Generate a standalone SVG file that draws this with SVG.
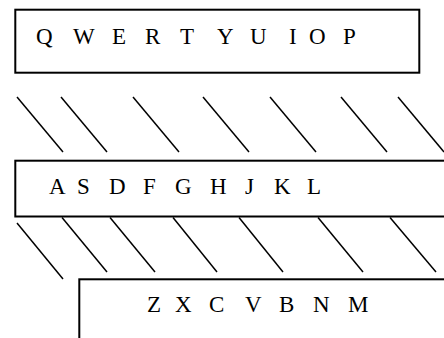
<svg xmlns="http://www.w3.org/2000/svg" width="444" height="338" viewBox="0 0 444 338">
<style>
.box{fill:#fff;stroke:#000;stroke-width:2}
.hatch line{stroke:#000;stroke-width:1.5}
.lbl{font-family:'Liberation Serif','Times New Roman',Times,serif;font-size:23px;fill:#000}
</style>
<rect width="444" height="338" fill="#fff"/>
<g id="node-top">
<rect class="box" x="15.3" y="9.7" width="404" height="63"/>
<text class="lbl" y="43.5" x="36 73 112 145 180 217 250 289 309 343">QWERTYUIOP</text>
</g>
<g id="node-middle">
<rect class="box" x="15.3" y="160.7" width="440" height="55.8"/>
<text class="lbl" y="194" x="49 77 109 143 175 210 245 274 307">ASDFGHJKL</text>
</g>
<g id="node-bottom">
<rect class="box" x="79.3" y="279.3" width="400" height="100"/>
<text class="lbl" y="311.5" x="147 175 209 245 279 313 348">ZXCVBNM</text>
</g>
<g id="connectors" class="hatch">
<line x1="17" y1="97" x2="63" y2="152"/>
<line x1="61" y1="97" x2="107" y2="152"/>
<line x1="133" y1="97" x2="179" y2="152"/>
<line x1="203" y1="97" x2="249" y2="152"/>
<line x1="270" y1="97" x2="316" y2="152"/>
<line x1="341" y1="97" x2="387" y2="152"/>
<line x1="398" y1="97" x2="444" y2="152"/>
<line x1="17" y1="223" x2="63" y2="279"/>
<line x1="62" y1="217.5" x2="107" y2="272"/>
<line x1="110" y1="217.5" x2="155" y2="272"/>
<line x1="173" y1="217.5" x2="217" y2="272"/>
<line x1="239" y1="217.5" x2="283" y2="272"/>
<line x1="318" y1="217.5" x2="363" y2="272"/>
<line x1="390" y1="217.5" x2="436" y2="272"/>
</g>
</svg>
